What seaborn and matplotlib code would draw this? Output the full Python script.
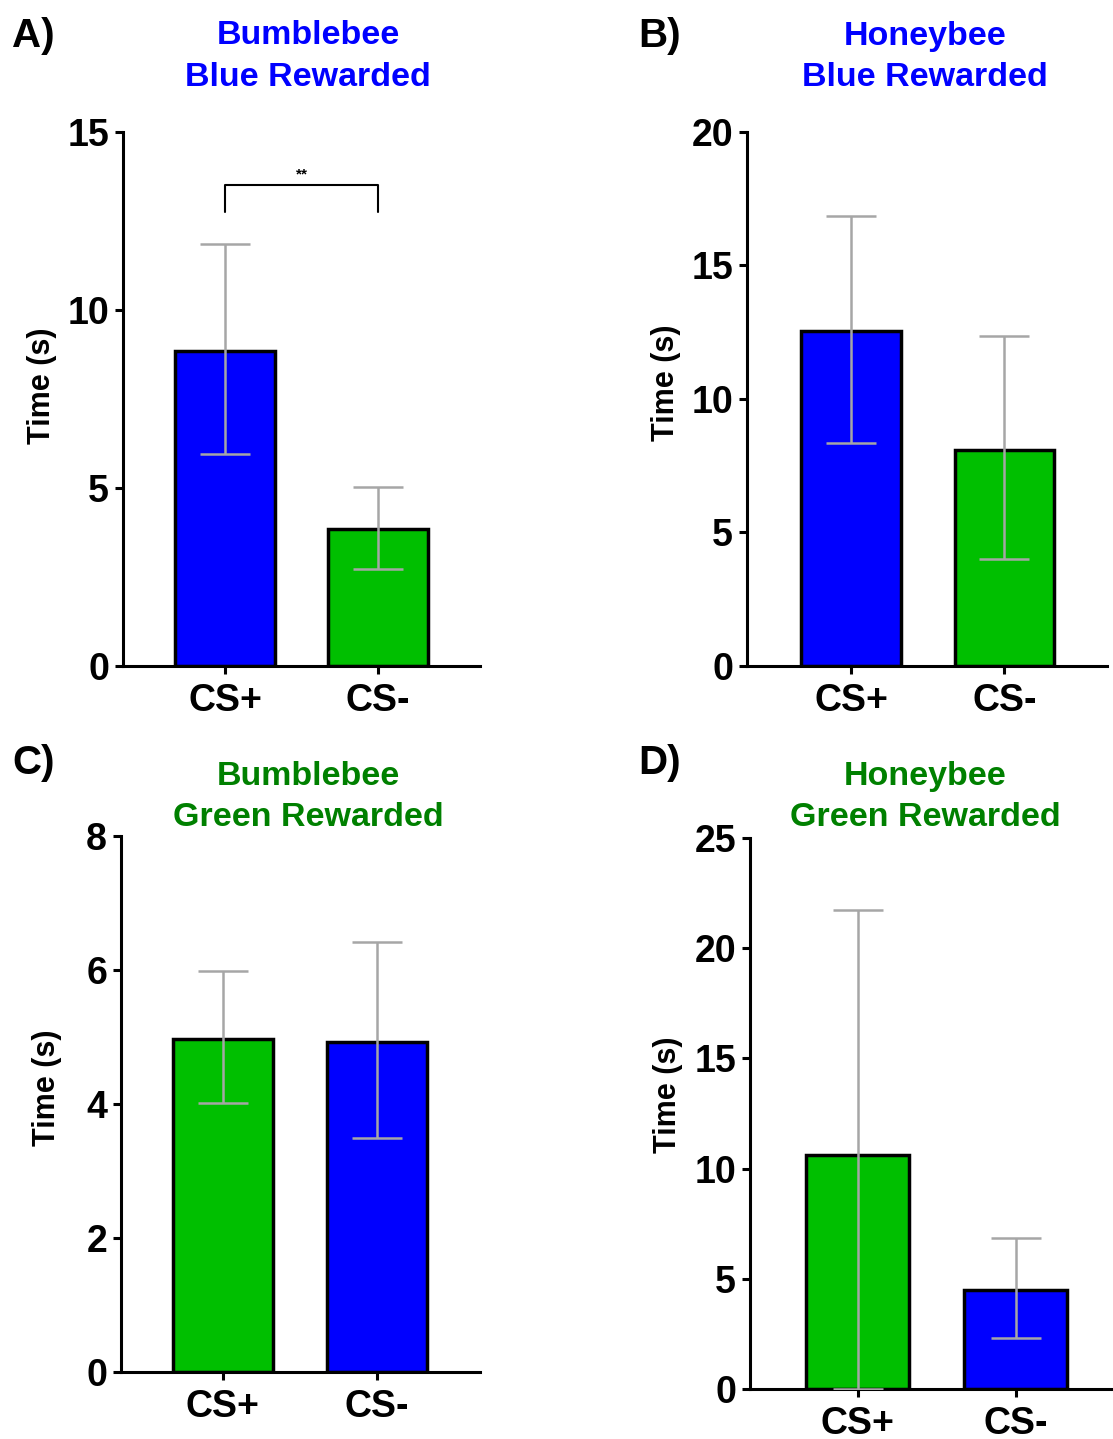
import matplotlib
matplotlib.use("Agg")
import matplotlib.pyplot as plt
import seaborn as sns
import numpy as np
import pandas as pd

sns.set_theme(style="ticks")
plt.rcParams['font.family'] = ['Liberation Sans', 'DejaVu Sans']
plt.rcParams['font.weight'] = 'bold'
plt.rcParams['text.color'] = 'black'
plt.rcParams['axes.labelcolor'] = 'black'
plt.rcParams['axes.edgecolor'] = 'black'
plt.rcParams['xtick.color'] = 'black'
plt.rcParams['ytick.color'] = 'black'

# --- data ---
categories = ["CS+", "CS-"]

a_means = [8.85, 3.85]
a_lower = [5.96, 2.72]
a_upper = [11.85, 5.03]

b_means = [12.55, 8.09]
b_lower = [8.35, 4.01]
b_upper = [16.85, 12.36]

c_means = [4.97, 4.93]
c_lower = [4.01, 3.49]
c_upper = [5.99, 6.42]

d_means = [10.62, 4.49]
d_lower = [0.0, 2.31]
d_upper = [21.73, 6.85]

BLUE = "#0000FF"
GREEN = "#00BF00"
TITLE_GREEN = "#008000"
ERR_GRAY = "#A6A6A6"

fig = plt.figure(figsize=(11.13, 14.39), dpi=100)

panels = [
    # letter, title lines, title colour, means, lower, upper, bar colours, ymax, ystep, axes rect, xlim
    ("A)", ("Bumblebee", "Blue Rewarded"), BLUE, a_means, a_lower, a_upper, [BLUE, GREEN], 15, 5,
     [0.1105, 0.5372, 0.3208, 0.3711], (-0.667, 1.667)),
    ("B)", ("Honeybee", "Blue Rewarded"), BLUE, b_means, b_lower, b_upper, [BLUE, GREEN], 20, 5,
     [0.6712, 0.5372, 0.3234, 0.3711], (-0.68, 1.67)),
    ("C)", ("Bumblebee", "Green Rewarded"), TITLE_GREEN, c_means, c_lower, c_upper, [GREEN, BLUE], 8, 2,
     [0.1087, 0.0466, 0.3226, 0.3724], (-0.66, 1.67)),
    ("D)", ("Honeybee", "Green Rewarded"), TITLE_GREEN, d_means, d_lower, d_upper, [GREEN, BLUE], 25, 5,
     [0.6739, 0.0347, 0.3252, 0.3829], (-0.68, 1.61)),
]

H = 1439.0
title_x = [308 / 1113, 925 / 1113, 308 / 1113, 925 / 1113]
title_y = [(36, 77), (36, 77), (777, 818), (777, 818)]
letter_xy = [(12, 36), (638, 36), (12, 763), (638, 763)]
ylabel_coords = [(-0.185, 0.524), (-0.183, 0.53), (-0.163, 0.53), (-0.185, 0.534)]

for i, (letter, title, tcol, means, lower, upper, cols, ymax, ystep, rect, xlim) in enumerate(panels):
    ax = fig.add_axes(rect)
    df = pd.DataFrame({"cond": categories, "time": means})
    sns.barplot(data=df, x="cond", y="time", hue="cond", palette=cols, legend=False,
                width=0.65, saturation=1, edgecolor="black", linewidth=2.5,
                errorbar=None, ax=ax)
    m = np.array(means)
    yerr = np.array([m - np.array(lower), np.array(upper) - m])
    ax.errorbar(range(len(categories)), m, yerr=yerr, fmt="none", ecolor=ERR_GRAY,
                elinewidth=1.8, capsize=18, capthick=1.8, zorder=5)
    ax.set_ylim(0, ymax)
    ax.set_xlim(*xlim)
    ax.set_yticks(np.arange(0, ymax + 0.1, ystep))
    ax.set_xlabel("")
    ax.set_ylabel("Time (s)", fontsize=22, fontweight="bold")
    ax.yaxis.set_label_coords(*ylabel_coords[i])
    for sp in ["top", "right"]:
        ax.spines[sp].set_visible(False)
    for sp in ["left", "bottom"]:
        ax.spines[sp].set_linewidth(2.2)
    ax.tick_params(axis="y", width=2.2, length=6, labelsize=27, pad=4)
    ax.tick_params(axis="x", width=2.2, length=6, labelsize=27, pad=6)
    for lab in ax.get_xticklabels() + ax.get_yticklabels():
        lab.set_fontweight("bold")
    for line, ypix in zip(title, title_y[i]):
        fig.text(title_x[i], 1 - ypix / H, line, color=tcol, fontsize=24.5,
                 fontweight="bold", ha="center", va="center")
    fig.text(letter_xy[i][0] / 1113, 1 - letter_xy[i][1] / H, letter, fontsize=29,
             fontweight="bold", ha="left", va="center")

    if letter == "A)":
        # significance bracket between CS+ and CS-
        y_top, y_leg = 13.5, 12.75
        ax.plot([0, 0, 1, 1], [y_leg, y_top, y_top, y_leg], color="black", lw=1.5, clip_on=False)
        ax.text(0.5, y_top + 0.1, "**", ha="center", va="bottom", fontsize=11)

fig.savefig("out.png", dpi=100)
